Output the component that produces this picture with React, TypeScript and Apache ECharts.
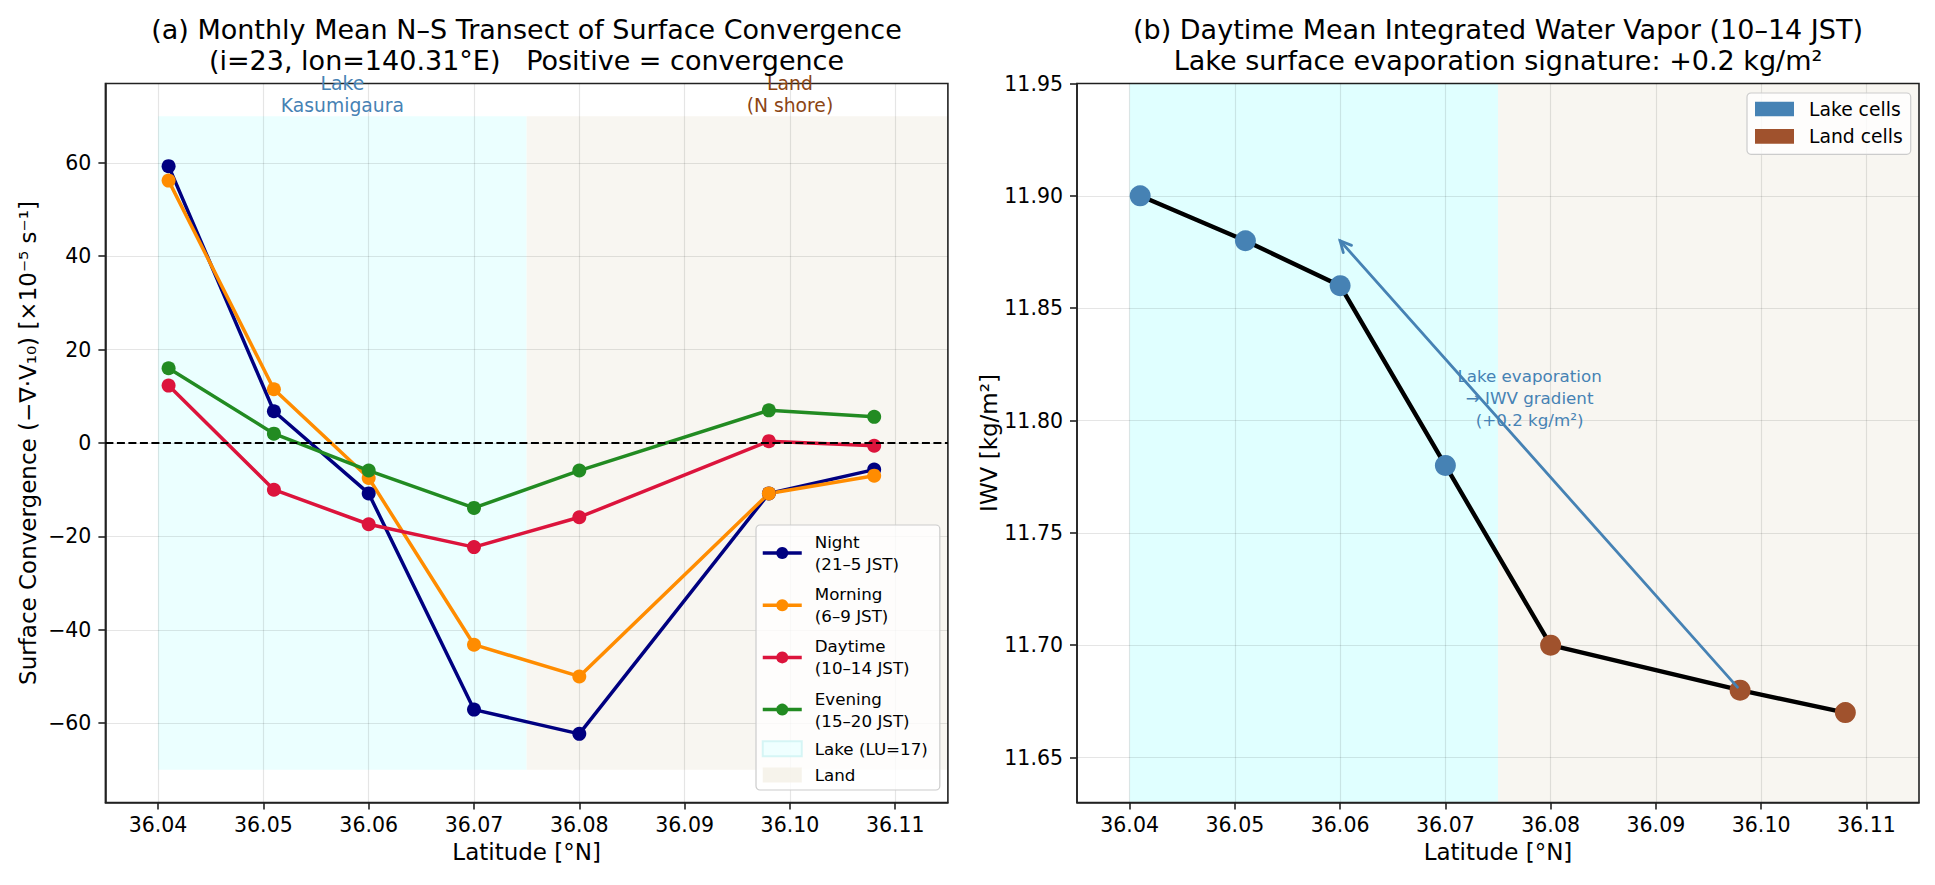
import { useEffect, useRef } from "react";
import * as echarts from "echarts";

// Transect latitudes (°N), shared by both panels
const latitudes = [36.041, 36.051, 36.06, 36.07, 36.08, 36.098, 36.108];

// Monthly-mean surface convergence (×10⁻⁵ s⁻¹) per time-of-day window
const nightConv = [59.3, 6.8, -10.8, -57.1, -62.3, -10.8, -5.7];
const morningConv = [56.2, 11.5, -7.5, -43.2, -50.0, -10.8, -7.0];
const daytimeConv = [12.3, -10.0, -17.4, -22.3, -15.9, 0.4, -0.6];
const eveningConv = [16.0, 2.0, -5.9, -13.9, -5.9, 7.0, 5.6];

// Daytime-mean integrated water vapour (kg/m²) and surface type of each cell
const iwv = [11.9, 11.88, 11.86, 11.78, 11.7, 11.68, 11.67];
const isLakeCell = [true, true, true, true, false, false, false];

// Tick values
const latTicks = [36.04, 36.05, 36.06, 36.07, 36.08, 36.09, 36.1, 36.11];
const convTicks = [-60, -40, -20, 0, 20, 40, 60];
const iwvTicks = [11.65, 11.7, 11.75, 11.8, 11.85, 11.9, 11.95];

// Surface-type bands along the transect
const lakeSpan = [36.04, 36.075];
const landSpan = [36.075, 36.115];
const convBand = [-70, 70];

// Region labels above the left panel
const regionLabels = ["Lake\nKasumigaura", "Land\n(N shore)"];
const regionLabelLat = [36.0575, 36.1];
const regionLabelConv = [70, 70];

// Evaporation-gradient annotation (right panel)
const gradientArrow = [36.098, 11.68, 36.06, 11.88];
const gradientNote = "Lake evaporation\n→ IWV gradient\n(+0.2 kg/m²)";
const gradientNotePos = [36.078, 11.81];

const NIGHT = "Night\n(21–5 JST)";
const MORNING = "Morning\n(6–9 JST)";
const DAYTIME = "Daytime\n(10–14 JST)";
const EVENING = "Evening\n(15–20 JST)";
const LAKE = "Lake (LU=17)";
const LAND = "Land";

const FONT = "DejaVu Sans";
const AXIS_COLOR = "#222222";
const GRID_COLOR = "rgba(0,0,0,0.1)";
const STEEL = "#4682B4";
const SIENNA = "#A0522D";
const LAKE_FILL_A = "#EBFFFF";
const LAKE_FILL_B = "#E0FFFF";
const LAND_FILL = "#F8F6F1";

const fmtSigned = (v: number) => (v < 0 ? "\u2212" + Math.abs(v) : String(v));

function latAxis(gridIndex: number) {
  return {
    type: "value",
    gridIndex,
    min: 36.035,
    max: 36.115,
    z: 1.5,
    name: "Latitude [°N]",
    nameLocation: "middle",
    nameGap: 36,
    nameTextStyle: { fontFamily: FONT, fontSize: 23, color: "#000" },
    axisLine: { show: true, onZero: false, lineStyle: { color: AXIS_COLOR, width: 1.6 } },
    axisTick: {
      show: true,
      length: 7,
      customValues: latTicks,
      lineStyle: { color: AXIS_COLOR, width: 1.6 },
    },
    axisLabel: {
      customValues: latTicks,
      formatter: (v: number) => v.toFixed(2),
      fontFamily: FONT,
      fontSize: 20.5,
      color: "#000",
      margin: 12,
    },
    splitLine: { show: true, lineStyle: { color: GRID_COLOR, width: 1.2 } },
  };
}

function valueAxis(
  gridIndex: number,
  min: number,
  max: number,
  ticks: number[],
  name: string,
  nameGap: number,
  fmt: (v: number) => string
) {
  return {
    type: "value",
    gridIndex,
    min,
    max,
    z: 1.5,
    name,
    nameLocation: "middle",
    nameGap,
    nameRotate: 90,
    nameTextStyle: { fontFamily: FONT, fontSize: 23, color: "#000" },
    axisLine: { show: true, onZero: false, lineStyle: { color: AXIS_COLOR, width: 1.6 } },
    axisTick: {
      show: true,
      length: 7,
      customValues: ticks,
      lineStyle: { color: AXIS_COLOR, width: 1.6 },
    },
    axisLabel: {
      customValues: ticks,
      formatter: fmt,
      fontFamily: FONT,
      fontSize: 20.5,
      color: "#000",
      margin: 14,
    },
    splitLine: { show: true, lineStyle: { color: GRID_COLOR, width: 1.2 } },
  };
}

function convSeries(name: string, values: number[], color: string, extra: object = {}) {
  return {
    type: "line",
    name,
    xAxisIndex: 0,
    yAxisIndex: 0,
    data: latitudes.map((lat, i) => [lat, values[i]]),
    symbol: "circle",
    symbolSize: 14,
    showSymbol: true,
    lineStyle: { color, width: 3.5 },
    itemStyle: { color },
    z: 3,
    ...extra,
  };
}

export default function App() {
  const ref = useRef<HTMLDivElement | null>(null);

  useEffect(() => {
    document.body.style.margin = "0";
    if (!ref.current) return;
    const chart = echarts.init(ref.current, undefined, { renderer: "svg" });

    const titleStyle = {
      fontFamily: FONT,
      fontSize: 27,
      fontWeight: "normal",
      color: "#000",
      lineHeight: 31,
    };

    const option = {
      animation: false,
      backgroundColor: "#ffffff",
      textStyle: { fontFamily: FONT },
      title: [
        {
          text: "(a) Monthly Mean N–S Transect of Surface Convergence\n(i=23, lon=140.31°E)   Positive = convergence",
          left: 526.5,
          top: 14,
          textAlign: "center",
          padding: 0,
          textStyle: titleStyle,
        },
        {
          text: "(b) Daytime Mean Integrated Water Vapor (10–14 JST)\nLake surface evaporation signature: +0.2 kg/m²",
          left: 1498,
          top: 14,
          textAlign: "center",
          padding: 0,
          textStyle: titleStyle,
        },
      ],
      grid: [
        {
          left: 105.4,
          top: 83.5,
          width: 842.5,
          height: 719,
          show: true,
          z: 1.5,
          borderColor: AXIS_COLOR,
          borderWidth: 1.6,
          backgroundColor: "transparent",
        },
        {
          left: 1077,
          top: 83.5,
          width: 842,
          height: 719,
          show: true,
          z: 1.5,
          borderColor: AXIS_COLOR,
          borderWidth: 1.6,
          backgroundColor: "transparent",
        },
      ],
      xAxis: [latAxis(0), latAxis(1)],
      yAxis: [
        valueAxis(0, -77, 77, convTicks, "Surface Convergence (\u2212\u2207·V\u2081\u2080) [×10\u207B\u2075 s\u207B\u00B9]", 66, fmtSigned),
        valueAxis(1, 11.63, 11.95, iwvTicks, "IWV [kg/m²]", 56, (v: number) => v.toFixed(2)),
      ],
      legend: [
        {
          orient: "vertical",
          left: 756,
          top: 525,
          padding: [6, 12, 6, 5],
          itemWidth: 39,
          itemHeight: 15,
          itemGap: 8.2,
          selectedMode: false,
          backgroundColor: "rgba(255,255,255,0.8)",
          borderColor: "#cccccc",
          borderWidth: 1.2,
          borderRadius: 4,
          lineStyle: { width: 3.5 },
          textStyle: {
            fontFamily: FONT,
            fontSize: 16.7,
            color: "#000",
            lineHeight: 22,
            padding: [0, 0, 0, 8],
          },
          data: [
            { name: NIGHT },
            { name: MORNING },
            { name: DAYTIME },
            { name: EVENING },
            { name: LAKE, icon: "rect", textStyle: { lineHeight: 18 } },
            { name: LAND, icon: "rect", textStyle: { lineHeight: 18 } },
          ],
        },
        {
          orient: "vertical",
          left: 1747,
          top: 93,
          padding: [6, 8, 8, 8],
          itemWidth: 39,
          itemHeight: 14.7,
          itemGap: 7.3,
          selectedMode: false,
          backgroundColor: "rgba(255,255,255,0.8)",
          borderColor: "#cccccc",
          borderWidth: 1.2,
          borderRadius: 4,
          textStyle: {
            fontFamily: FONT,
            fontSize: 18.75,
            color: "#000",
            lineHeight: 20,
            padding: [0, 0, 0, 10],
          },
          data: [
            { name: "Lake cells", icon: "rect" },
            { name: "Land cells", icon: "rect" },
          ],
        },
      ],
      series: [
        // ---- (a) surface-type bands ----
        {
          type: "scatter",
          name: LAKE,
          xAxisIndex: 0,
          yAxisIndex: 0,
          data: [],
          itemStyle: { color: LAKE_FILL_A, borderColor: "#cdf3f3", borderWidth: 1 },
          markArea: {
            silent: true,
            z: 1,
            itemStyle: { color: LAKE_FILL_A },
            data: [[{ xAxis: lakeSpan[0], yAxis: convBand[0] }, { xAxis: lakeSpan[1], yAxis: convBand[1] }]],
          },
        },
        {
          type: "scatter",
          name: LAND,
          xAxisIndex: 0,
          yAxisIndex: 0,
          data: [],
          itemStyle: { color: "#F4F0E6" },
          markArea: {
            silent: true,
            z: 1,
            itemStyle: { color: LAND_FILL },
            data: [[{ xAxis: landSpan[0], yAxis: convBand[0] }, { xAxis: landSpan[1], yAxis: convBand[1] }]],
          },
        },
        // ---- (a) convergence transects ----
        convSeries(NIGHT, nightConv, "#000080", {
          markLine: {
            silent: true,
            symbol: "none",
            label: { show: false },
            lineStyle: { color: "#000", type: [8, 3.5], width: 2 },
            data: [{ yAxis: 0 }],
          },
        }),
        convSeries(MORNING, morningConv, "#FF8C00"),
        convSeries(DAYTIME, daytimeConv, "#DC143C"),
        convSeries(EVENING, eveningConv, "#228B22"),
        {
          type: "custom",
          xAxisIndex: 0,
          yAxisIndex: 0,
          silent: true,
          clip: false,
          z: 4,
          data: regionLabelLat.map((lat, i) => [lat, regionLabelConv[i]]),
          renderItem: (params: any, api: any) => {
            const p = api.coord([api.value(0), api.value(1)]);
            return {
              type: "text",
              x: p[0],
              y: p[1],
              style: {
                text: regionLabels[params.dataIndex],
                fill: params.dataIndex === 0 ? STEEL : "#8B4513",
                fontFamily: FONT,
                fontSize: 18.75,
                lineHeight: 22,
                align: "center",
                verticalAlign: "bottom",
              },
            };
          },
        },
        // ---- (b) surface-type bands ----
        {
          type: "scatter",
          name: "lake band",
          xAxisIndex: 1,
          yAxisIndex: 1,
          data: [],
          markArea: {
            silent: true,
            z: 1,
            itemStyle: { color: LAKE_FILL_B },
            data: [[{ xAxis: lakeSpan[0] }, { xAxis: lakeSpan[1] }]],
          },
        },
        {
          type: "scatter",
          name: "land band",
          xAxisIndex: 1,
          yAxisIndex: 1,
          data: [],
          markArea: {
            silent: true,
            z: 1,
            itemStyle: { color: LAND_FILL },
            data: [[{ xAxis: landSpan[0] }, { xAxis: landSpan[1] }]],
          },
        },
        // ---- (b) IWV transect ----
        {
          type: "line",
          name: "IWV",
          xAxisIndex: 1,
          yAxisIndex: 1,
          data: latitudes.map((lat, i) => [lat, iwv[i]]),
          symbol: "none",
          lineStyle: { color: "#000", width: 4.4 },
          z: 2,
        },
        {
          type: "scatter",
          name: "Lake cells",
          xAxisIndex: 1,
          yAxisIndex: 1,
          data: latitudes.filter((_, i) => isLakeCell[i]).map((lat) => [lat, iwv[latitudes.indexOf(lat)]]),
          symbol: "circle",
          symbolSize: 21,
          itemStyle: { color: STEEL, opacity: 1 },
          z: 3,
        },
        {
          type: "scatter",
          name: "Land cells",
          xAxisIndex: 1,
          yAxisIndex: 1,
          data: latitudes.filter((_, i) => !isLakeCell[i]).map((lat) => [lat, iwv[latitudes.indexOf(lat)]]),
          symbol: "circle",
          symbolSize: 21,
          itemStyle: { color: SIENNA, opacity: 1 },
          z: 3,
        },
        {
          type: "custom",
          xAxisIndex: 1,
          yAxisIndex: 1,
          silent: true,
          clip: false,
          z: 4,
          data: [gradientNotePos],
          renderItem: (_params: any, api: any) => {
            const p = api.coord([api.value(0), api.value(1)]);
            return {
              type: "text",
              x: p[0],
              y: p[1],
              style: {
                text: gradientNote,
                fill: STEEL,
                fontFamily: FONT,
                fontSize: 16.7,
                lineHeight: 21.7,
                align: "center",
                verticalAlign: "middle",
              },
            };
          },
        },
        {
          type: "custom",
          xAxisIndex: 1,
          yAxisIndex: 1,
          silent: true,
          clip: false,
          z: 5,
          data: [gradientArrow],
          renderItem: (_params: any, api: any) => {
            const a = api.coord([api.value(0), api.value(1)]);
            const b = api.coord([api.value(2), api.value(3)]);
            const dx = b[0] - a[0];
            const dy = b[1] - a[1];
            const len = Math.hypot(dx, dy);
            const ux = dx / len;
            const uy = dy / len;
            const s = [a[0] + ux * 4, a[1] + uy * 4];
            const headLen = 11;
            const headHalf = 5.5;
            const base = [b[0] - ux * headLen, b[1] - uy * headLen];
            const nx = -uy;
            const ny = ux;
            const style = { stroke: STEEL, lineWidth: 2.8, fill: "none", lineCap: "round" };
            return {
              type: "group",
              children: [
                { type: "line", shape: { x1: s[0], y1: s[1], x2: b[0], y2: b[1] }, style },
                {
                  type: "polyline",
                  shape: {
                    points: [
                      [base[0] + nx * headHalf, base[1] + ny * headHalf],
                      [b[0], b[1]],
                      [base[0] - nx * headHalf, base[1] - ny * headHalf],
                    ],
                  },
                  style,
                },
              ],
            };
          },
        },
      ],
    };

    chart.setOption(option as any);
    return () => chart.dispose();
  }, []);

  return <div ref={ref} style={{ width: 1935, height: 885 }} />;
}
